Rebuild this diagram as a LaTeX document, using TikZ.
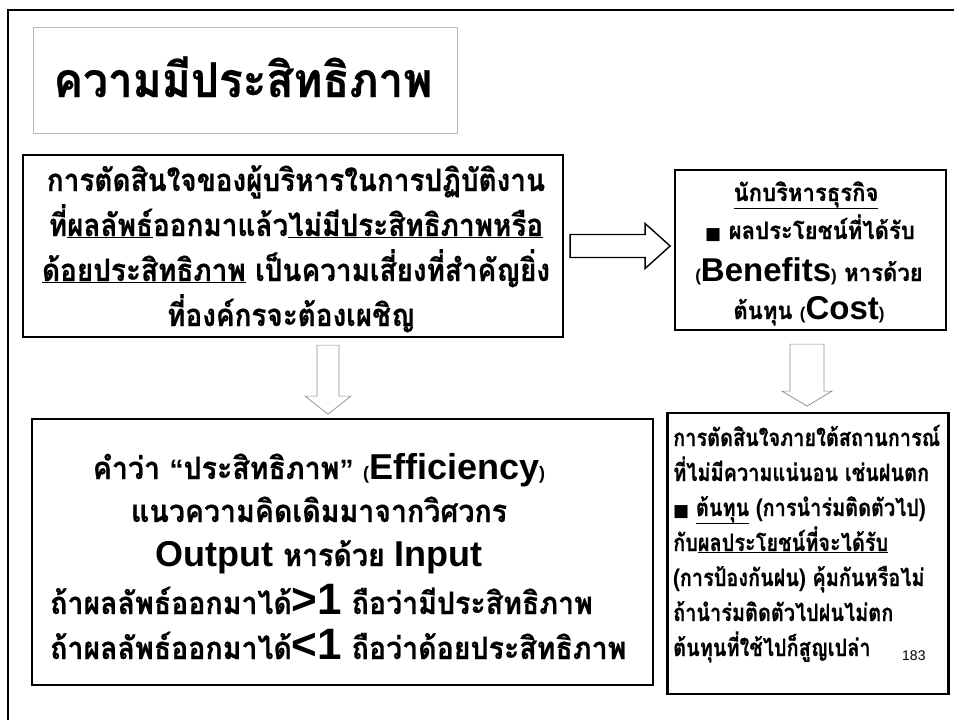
\documentclass[tikz,border=0pt]{standalone}
\usepackage{fontspec}
\newfontfamily\thT[Script=Thai,FakeStretch=0.92,BoldFeatures={FakeBold=0.5}]{Loma}
\newfontfamily\thB[Script=Thai,FakeStretch=0.9,BoldFeatures={FakeBold=0.5}]{Loma}
\newfontfamily\thD[Script=Thai,FakeStretch=0.83,BoldFeatures={FakeBold=0.4}]{Loma}
\newfontfamily\arl{Liberation Sans}
\newfontfamily\sym{DejaVu Sans}
\usetikzlibrary{calc}
\tikzset{
  box/.style={draw=black, line width=2.2pt, inner sep=0pt},
  titlebox/.style={draw=black!28, line width=0.8pt, inner sep=0pt},
  blockR/.style={draw=black, line width=1.4pt, fill=white, line join=miter},
  blockD/.style={draw=black!45, line width=0.7pt, fill=white},
  ln/.style={inner sep=0pt, anchor=base},
  lnl/.style={inner sep=0pt, anchor=base west},
  f1/.style={font=\thB\bfseries\fontsize{31}{31}\selectfont},
  f2/.style={font=\thT\bfseries\fontsize{24}{24}\selectfont},
  f3/.style={font=\thT\bfseries\fontsize{31}{31}\selectfont},
  f4/.style={font=\thD\bfseries\fontsize{24}{24}\selectfont},
}
\newcommand{\en}[2]{{\arl\bfseries\fontsize{#1}{#1}\selectfont #2}}
\newcommand{\sq}{{\sym\fontsize{17}{17}\selectfont ■}}
\begin{document}
\begin{tikzpicture}[x=1pt,y=-1pt]
\useasboundingbox (0,0) rectangle (954,720);
\fill[white] (0,0) rectangle (954,720);
% outer frame
\draw[line width=2.6pt] (8,740) -- (8,10) -- (970,10);
% title
\node[titlebox, minimum width=424, minimum height=106] (title) at (245,80) {};
\node[ln, font=\thT\bfseries\fontsize{48}{48}\selectfont] (tt) at (243,97) {ความมีประสิทธิภาพ};
% box 1
\node[box, minimum width=540, minimum height=182] (b1) at (293,246) {};
\node[ln,f1] (b1l1) at (296,191) {การตัดสินใจของผู้บริหารในการปฏิบัติงาน};
\node[ln,f1] (b1l2) at (296,236) {ที่\underline{ผลลัพธ์}ออกมาแล้ว\underline{ไม่มีประสิทธิภาพหรือ}};
\node[ln,f1] (b1l3) at (296,281) {\underline{ด้อยประสิทธิภาพ} เป็นความเสี่ยงที่สำคัญยิ่ง};
\node[ln,f1] (b1l4) at (291,326) {ที่องค์กรจะต้องเผชิญ};
% box 2
\node[box, minimum width=271, minimum height=160] (b2) at (810.5,250) {};
\node[ln,f2] (b2l1) at (806,201) {\underline{นักบริหารธุรกิจ}};
\node[ln,f2] (b2l2) at (810,239) {\sq\ ผลประโยชน์ที่ได้รับ};
\node[ln,f2] (b2l3) at (809,281) {\en{17}{(}\en{33}{Benefits}\en{17}{)} หารด้วย};
\node[ln,f2] (b2l4) at (809,319) {ต้นทุน \en{17}{(}\en{33}{Cost}\en{17}{)}};
% box 3
\node[box, minimum width=621, minimum height=266] (b3) at (342.5,552) {};
\node[ln,f3] (b3l1) at (319,479) {คำว่า \en{28}{“}ประสิทธิภาพ\en{28}{”} \en{18}{(}\en{36}{Efficiency}\en{18}{)}};
\node[ln,f3] (b3l2) at (319,522) {แนวความคิดเดิมมาจากวิศวกร};
\node[ln,f3] (b3l3) at (319,566) {\en{36}{Output} หารด้วย \en{36}{Input}};
\node[lnl,f3] (b3l4) at (50,614) {ถ้าผลลัพธ์ออกมาได้\en{44}{>1} ถือว่ามีประสิทธิภาพ};
\node[lnl,f3] (b3l5) at (50,659) {ถ้าผลลัพธ์ออกมาได้\en{44}{<1} ถือว่าด้อยประสิทธิภาพ};
% box 4
\node[box, minimum width=281, minimum height=281] (b4) at (808,553.5) {};
\node[lnl,f4] (b4l1) at (673,446) {การตัดสินใจภายใต้สถานการณ์};
\node[lnl,f4] (b4l2) at (673,481) {ที่ไม่มีความแน่นอน เช่นฝนตก};
\node[lnl,f4] (b4l3) at (673,516) {\sq\ \underline{ต้นทุน} (การนำร่มติดตัวไป)};
\node[lnl,f4] (b4l4) at (673,551) {กับ\underline{ผลประโยชน์ที่จะได้รับ}};
\node[lnl,f4] (b4l5) at (673,586) {(การป้องกันฝน) คุ้มกันหรือไม่};
\node[lnl,f4] (b4l6) at (673,621) {ถ้านำร่มติดตัวไปฝนไม่ตก};
\node[lnl,f4] (b4l7) at (673,656) {ต้นทุนที่ใช้ไปก็สูญเปล่า};
\node[lnl, inner sep=0pt, font=\arl\fontsize{14}{14}\selectfont] (pg) at (902,660) {183};
% block arrows
\coordinate (r0) at ($(b1.east)+(6,0)$);
\draw[blockR] (r0) ++(0,-11.5) -- ++(75,0) -- ++(0,-11) -- ++(25,22.5) -- ++(-25,22.5) -- ++(0,-11) -- ++(-75,0) -- cycle;
\coordinate (d1) at ($(b1.south)+(35,7)$);
\draw[blockD] (d1) ++(-11,0) -- ++(0,51) -- ++(-12,0) -- ++(23,18) -- ++(23,-18) -- ++(-12,0) -- ++(0,-51) -- cycle;
\coordinate (d2) at ($(b2.south)+(-3.5,13)$);
\draw[blockD] (d2) ++(-17,0) -- ++(0,47) -- ++(-8,0) -- ++(25,15) -- ++(25,-15) -- ++(-8,0) -- ++(0,-47) -- cycle;
\end{tikzpicture}
\end{document}
